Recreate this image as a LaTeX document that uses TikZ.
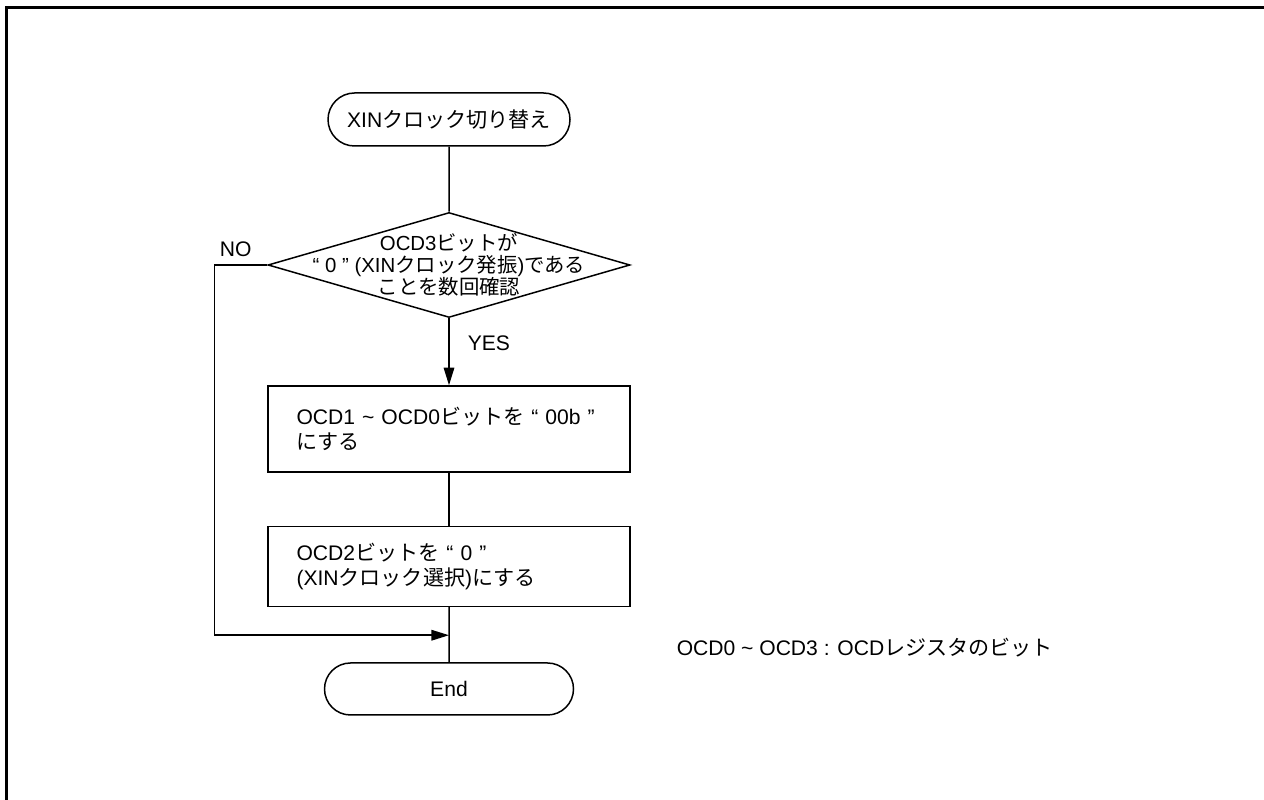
\documentclass[tikz,border=0pt]{standalone}
\usepackage{fontspec}
\setmainfont{Liberation Sans}
\newfontfamily\jp{Noto Sans CJK JP}
\usetikzlibrary{arrows.meta, positioning, shapes.geometric, shapes.misc}

\begin{document}
\begin{tikzpicture}[
    term/.style={draw, rounded rectangle, minimum width=4.9cm, minimum height=1.05cm, inner sep=0pt, font=\fontsize{12}{14}\selectfont},
    decide/.style={draw, diamond, minimum width=7.24cm, minimum height=2.1cm, inner sep=0pt},
    proc/.style={draw, rectangle, text width=6.1cm, inner xsep=0.57cm, align=left, font=\fontsize{12}{14.2}\selectfont},
    lbl/.style={inner sep=0pt, font=\fontsize{12}{14}\selectfont},
    >={Triangle[length=10pt, width=6pt]}, line width=0.85pt]
  \useasboundingbox (0,0) rectangle (25.28,-16);
  % frame
  \draw[line width=1.7pt] (0.13,-16) -- (0.13,-0.15) -- (25.28,-0.15);
  \node[term, minimum width=4.84cm, minimum height=1.06cm] (start) at (8.98,-2.39) {XIN{\jp クロック切り替え}};
  \node[decide, below=1.3cm of start] (chk) {};
  \node[lbl, align=center, font=\fontsize{11.6}{12.4}\selectfont] (chktxt) at (chk)
    {OCD3{\jp ビットが}\\“ 0 ” (XIN{\jp クロック発振}){\jp である}\\{\jp ことを数回確認}};
  \node[proc, minimum height=1.72cm, below=1.34cm of chk] (set1)
    {OCD1 \textasciitilde{} OCD0{\jp ビットを} “ 00b ”\\{\jp にする}};
  \node[proc, minimum height=1.6cm, below=1.06cm of set1] (set2)
    {OCD2{\jp ビットを} “ 0 ”\\(XIN{\jp クロック選択}){\jp にする}};
  \node[term, minimum width=4.98cm, minimum height=1.04cm, below=1.1cm of set2] (fin) {End};
  \coordinate[below=0.56cm of set2] (merge);
  \draw (start) -- (chk);
  \draw[->] (chk) -- (set1);
  \draw (set1) -- (set2);
  \draw (set2) -- (fin);
  \draw[->] (chk.west) -- ++(-1.06,0) |- (merge);
  \node[lbl, above left=0.16cm and 0.3cm of chk.west] (no) {NO};
  \node[lbl, below right=0.34cm and 0.36cm of chk.south] (yes) {YES};
  % note
  \node[lbl, anchor=west] (note) at (13.52,-12.96) {OCD0 \textasciitilde{} OCD3 : OCD{\jp レジスタのビット}};
\end{tikzpicture}
\end{document}
